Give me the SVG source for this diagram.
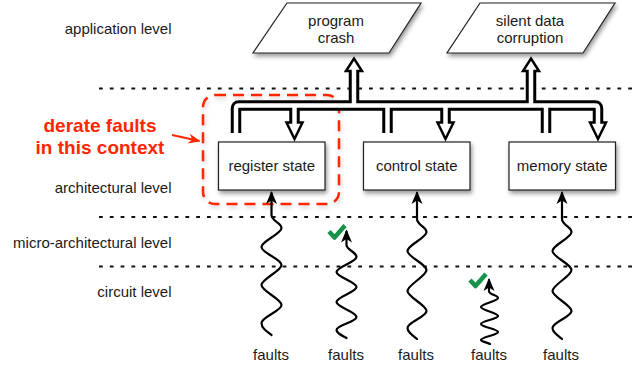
<svg xmlns="http://www.w3.org/2000/svg" width="633" height="368" viewBox="0 0 633 368">
<defs>
<style>
.lbl{font-family:"Liberation Sans",Arial,Helvetica,sans-serif;font-size:15px;fill:#1a1a1a}
.mid{text-anchor:middle}
.end{text-anchor:end}
.red{font-family:"Liberation Sans",Arial,Helvetica,sans-serif;font-size:19px;font-weight:bold;fill:#ff2600;text-anchor:middle}
.dot{fill:none;stroke:#111;stroke-width:2;stroke-dasharray:3.8 7}
.box{fill:#fff;stroke:#222;stroke-width:1.2;filter:url(#sh)}
.zone{fill:none;stroke:#ff2600;stroke-width:2.5;stroke-dasharray:11 7;filter:url(#sh2)}
.busb{fill:none;stroke:#000;stroke-width:10.5;stroke-linejoin:round}
.busw{fill:none;stroke:#fff;stroke-width:4.5;stroke-linejoin:round}
.head{fill:#fff;stroke:#000;stroke-width:2.5;stroke-linejoin:miter}
.wave{fill:none;stroke:#000;stroke-width:2.2;stroke-linejoin:round;stroke-linecap:round;marker-end:url(#ah)}
.chk{fill:none;stroke:#17924a;stroke-width:4.5;stroke-linejoin:round}
</style>
<filter id="sh" x="-20%" y="-20%" width="150%" height="170%">
<feDropShadow dx="1.5" dy="3" stdDeviation="2" flood-color="#000" flood-opacity="0.4"/>
</filter>
<filter id="sh2" x="-10%" y="-10%" width="130%" height="130%">
<feDropShadow dx="1" dy="2.5" stdDeviation="2" flood-color="#000" flood-opacity="0.2"/>
</filter>
<marker id="ah" markerUnits="userSpaceOnUse" markerWidth="20" markerHeight="20" refX="-2" refY="0" orient="auto" overflow="visible">
<path d="M0,0 L-13,-5.5 L-9.5,0 L-13,5.5 Z" fill="#000"/>
</marker>
<marker id="rah" markerUnits="userSpaceOnUse" markerWidth="20" markerHeight="20" refX="-1" refY="0" orient="auto" overflow="visible">
<path d="M0,0 L-12,-5 L-8.5,0 L-12,5 Z" fill="#ff2600"/>
</marker>
</defs>

<g id="levels">
<path class="dot" d="M99,88.5 H633"/>
<path class="dot" d="M99,217 H633"/>
<path class="dot" d="M99,266.5 H633"/>
<text class="lbl end" x="171.5" y="34">application level</text>
<text class="lbl end" x="171.5" y="192.5">architectural level</text>
<text class="lbl end" x="171.5" y="247.5">micro-architectural level</text>
<text class="lbl end" x="171.5" y="297">circuit level</text>
</g>

<g id="context-zone">
<rect class="zone" x="203" y="95" width="136" height="109" rx="12" ry="12"/>
</g>

<g id="program-crash">
<polygon class="box" points="287,3 421,3 389,53 253,53"/>
<text class="lbl mid" x="336" y="26">program</text>
<text class="lbl mid" x="336" y="42.5">crash</text>
</g>

<g id="silent-data-corruption">
<polygon class="box" points="480,3 615,3 583,53 447,53"/>
<text class="lbl mid" x="530" y="26">silent data</text>
<text class="lbl mid" x="530" y="42.5">corruption</text>
</g>

<g id="register-state">
<rect class="box" x="218.5" y="142" width="106.5" height="48"/>
<text class="lbl mid" x="271.75" y="171">register state</text>
</g>

<g id="control-state">
<rect class="box" x="363.5" y="142" width="106.5" height="48"/>
<text class="lbl mid" x="416.75" y="171">control state</text>
</g>

<g id="memory-state">
<rect class="box" x="509" y="142" width="106.5" height="48"/>
<text class="lbl mid" x="562.25" y="171">memory state</text>
</g>

<g id="connectors">
<g id="bus">
<path class="busb" d="M236,133 V108.5 Q236,105.5 239,105.5 H595 Q598,105.5 598,108.5 V122.5"/>
<path class="busb" d="M387.5,133 V105.5"/>
<path class="busb" d="M546,133 V105.5"/>
<path class="busb" d="M294.5,105.5 V122.5"/>
<path class="busb" d="M445.5,105.5 V122.5"/>
<path class="busb" d="M354,105.5 V71"/>
<path class="busb" d="M531,105.5 V71"/>
<polygon class="head" points="286.5,122.5 302.5,122.5 294.5,139"/>
<polygon class="head" points="437.5,122.5 453.5,122.5 445.5,139"/>
<polygon class="head" points="590,122.5 606,122.5 598,139"/>
<polygon class="head" points="346,71 362,71 354,58.5"/>
<polygon class="head" points="523,71 539,71 531,58.5"/>
<path class="busw" d="M236,133 V108.5 Q236,105.5 239,105.5 H595 Q598,105.5 598,108.5 V125"/>
<path class="busw" d="M387.5,133 V105.5"/>
<path class="busw" d="M546,133 V105.5"/>
<path class="busw" d="M294.5,105.5 V125"/>
<path class="busw" d="M445.5,105.5 V125"/>
<path class="busw" d="M354,105.5 V68.5"/>
<path class="busw" d="M531,105.5 V68.5"/>
</g>
<g id="faults">
<path class="wave" d="M271.5,335 C266,331 261.5,328 261.5,323 C261.5,317 281.5,311 281.5,305 C281.5,299 261.5,291 261.5,285 C261.5,279 281.5,271 281.5,265 C281.5,259 261.5,253 261.5,247 C261.5,241 281.5,234 281.5,228 C281.5,223 271.5,221 271.5,215 L271.5,193"/>
<path class="wave" d="M346.5,338 C341,335 336.5,333 336.5,330 C336.5,325 356.5,322 356.5,317 C356.5,312 336.5,307 336.5,302 C336.5,297 356.5,292 356.5,287 C356.5,282 336.5,277 336.5,272 C336.5,267 356.5,262 356.5,257 C356.5,252 346.5,250 346.5,245 L346.5,231.5"/>
<path class="wave" d="M417,339 C412,335 407.5,332 407.5,328 C407.5,322 426.5,317 426.5,311 C426.5,305 407.5,297 407.5,291 C407.5,285 426.5,276 426.5,270 C426.5,264 407.5,257 407.5,251 C407.5,245 426.5,238 426.5,232 C426.5,227 417,225 417,219 L417,193"/>
<path class="wave" d="M490,344 C486,342 481,341.5 481,340 C481,337 498,335 498,332 C498,329 481,327 481,324 C481,321 498,319 498,316 C498,313 481,310 481,307 C481,304 498,301 498,298 C498,295 489,295 489,291 L489,280"/>
<path class="wave" d="M562,339 C557,335 552.5,332 552.5,328 C552.5,322 571.5,317 571.5,311 C571.5,305 552.5,297 552.5,291 C552.5,285 571.5,276 571.5,270 C571.5,264 552.5,257 552.5,251 C552.5,245 571.5,238 571.5,232 C571.5,227 562,225 562,219 L562,193"/>
<path class="chk" d="M329,231.5 L334.5,237.5 L345,225.5"/>
<path class="chk" d="M470,280 L475.5,286 L486,274"/>
</g>
<path id="context-arrow" d="M172,135 L199.5,141" fill="none" stroke="#ff2600" stroke-width="2" marker-end="url(#rah)"/>
</g>

<g id="fault-labels">
<text class="lbl mid" x="271" y="360">faults</text>
<text class="lbl mid" x="346" y="360">faults</text>
<text class="lbl mid" x="416" y="360">faults</text>
<text class="lbl mid" x="489" y="360">faults</text>
<text class="lbl mid" x="561" y="360">faults</text>
</g>

<g id="note">
<text class="red" x="100" y="132">derate faults</text>
<text class="red" x="100" y="153.5">in this context</text>
</g>
</svg>
